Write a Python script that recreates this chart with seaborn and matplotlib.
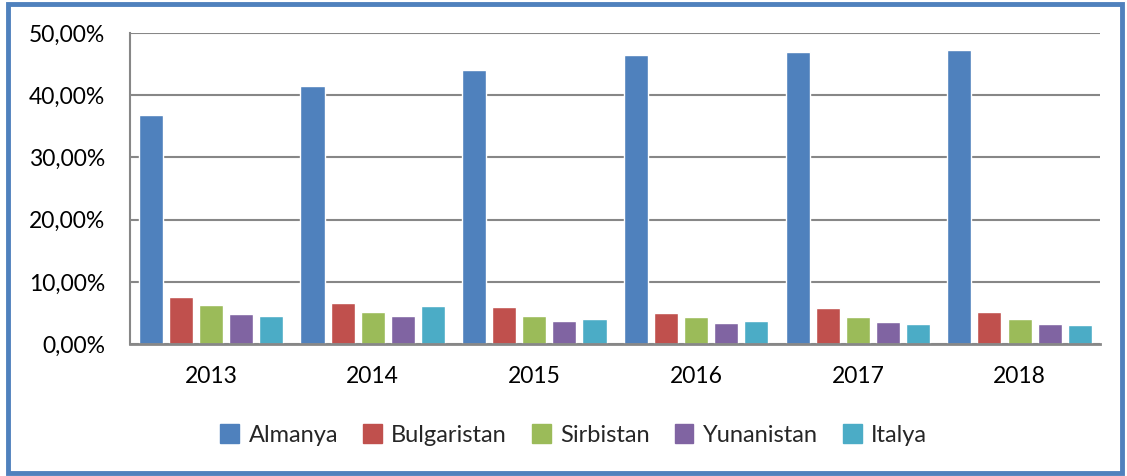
import pandas as pd
import matplotlib.pyplot as plt
import seaborn as sns
from matplotlib.patches import Rectangle
from matplotlib.ticker import FuncFormatter

# --- data (share, %) ---
years = ['2013', '2014', '2015', '2016', '2017', '2018']
countries = ['Almanya', 'Bulgaristan', 'Sirbistan', 'Yunanistan', 'Italya']
almanya = [36.8, 41.4, 44.0, 46.5, 46.9, 47.2]
bulgaristan = [7.57, 6.55, 5.96, 5.05, 5.80, 5.20]
sirbistan = [6.23, 5.20, 4.46, 4.35, 4.35, 4.03]
yunanistan = [4.89, 4.60, 3.65, 3.33, 3.50, 3.22]
italya = [4.57, 6.07, 4.03, 3.66, 3.22, 3.06]
colors = ['#4F81BD', '#C0504D', '#9BBB59', '#8064A2', '#4BACC6']

series = [almanya, bulgaristan, sirbistan, yunanistan, italya]
rows = []
for name, vals in zip(countries, series):
    for yr, v in zip(years, vals):
        rows.append({'year': yr, 'country': name, 'value': v})
df = pd.DataFrame(rows)

sns.set_style('white')
plt.rcParams['font.family'] = ['Lato', 'DejaVu Sans']

fig = plt.figure(figsize=(11.27, 4.76), dpi=100)
ax = fig.add_axes([0.1154, 0.277, 0.861, 0.654])

sns.barplot(data=df, x='year', y='value', hue='country', order=years,
            hue_order=countries, palette=colors, width=0.93, gap=0.2,
            saturation=1, ax=ax, legend=True)

ax.set_ylim(0, 50)
ax.set_yticks([0, 10, 20, 30, 40, 50])
ax.yaxis.set_major_formatter(FuncFormatter(lambda v, p: f'{v:.2f}%'.replace('.', ',')))
ax.set_xlabel('')
ax.set_ylabel('')
ax.grid(axis='y', color='#878787', linewidth=1.5)
ax.set_axisbelow(True)
for s in ['top', 'right']:
    ax.spines[s].set_visible(False)
ax.spines['left'].set_color('#878787')
ax.spines['left'].set_linewidth(1.5)
ax.spines['bottom'].set_color('#878787')
ax.spines['bottom'].set_linewidth(2)
ax.tick_params(axis='both', length=0, labelsize=16.5, colors='black')
ax.tick_params(axis='y', pad=18)
ax.tick_params(axis='x', pad=16)

ax.get_legend().remove()
handles = [Rectangle((0, 0), 1, 1, color=c) for c in colors]
fig.legend(handles, countries, loc='center', bbox_to_anchor=(0.509, 0.086),
           ncol=5, frameon=False, fontsize=17, handlelength=0.8,
           handleheight=0.8, handletextpad=0.4, columnspacing=1.05)

# outer blue frame of the chart
fig.patches.append(Rectangle((0.007, 0.006), 0.989, 0.986, transform=fig.transFigure,
                             fill=False, edgecolor='#4F81BD', linewidth=3.5))

plt.savefig('out.png', dpi=100)
